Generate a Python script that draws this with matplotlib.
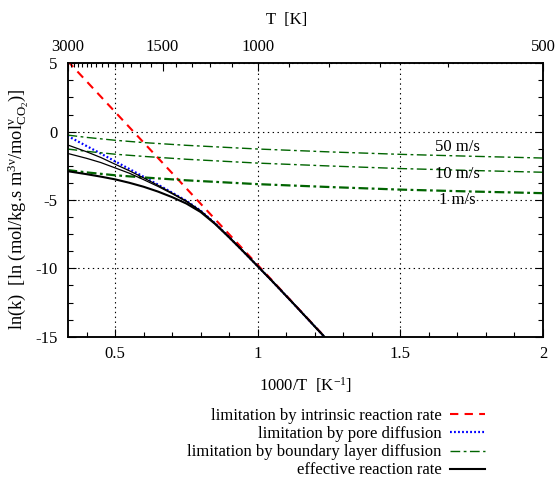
import matplotlib
matplotlib.use('Agg')
import matplotlib.pyplot as plt
from matplotlib.ticker import FixedLocator, MultipleLocator, NullFormatter, FixedFormatter

plt.rcParams['font.family'] = ['Liberation Serif', 'DejaVu Serif']
plt.rcParams['mathtext.fontset'] = 'custom'
plt.rcParams['mathtext.rm'] = 'Liberation Serif'
plt.rcParams['mathtext.it'] = 'Liberation Serif:italic'
plt.rcParams['axes.unicode_minus'] = False
plt.rcParams['lines.scale_dashes'] = False

# ---------------- data ----------------
# intrinsic reaction rate (straight line in Arrhenius plot)
x_intr = [0.3333, 1.25]
y_intr = [5.18, -15.35]

# pore diffusion limitation
x_pore = [0.3333, 0.4, 0.45, 0.5, 0.55, 0.6, 0.65, 0.7, 0.75, 0.8, 0.85,
          0.9, 0.95, 1.0, 1.05, 1.1, 1.15, 1.2, 1.25]
y_pore = [-0.31, -1.05, -1.6, -2.17, -2.73, -3.3, -3.87, -4.46, -5.06, -5.78,
          -6.69, -7.72, -8.77, -9.84, -10.92, -12.02, -13.13, -14.25, -15.37]

# boundary layer diffusion limitation for three gas velocities
x_bl = [0.3333, 0.4, 0.5, 0.6, 0.75, 1.0, 1.25, 1.5, 1.75, 2.0]
bl_50 = [-0.25, -0.42, -0.63, -0.80, -1.0, -1.27, -1.48, -1.66, -1.80, -1.93]
bl_10 = [-1.27, -1.44, -1.65, -1.81, -2.02, -2.30, -2.51, -2.70, -2.84, -2.97]
bl_1 = [-2.81, -2.98, -3.19, -3.35, -3.56, -3.84, -4.05, -4.24, -4.38, -4.50]

# effective reaction rate for the three gas velocities
x_eff = [0.3333, 0.4, 0.45, 0.5, 0.55, 0.6, 0.65, 0.7, 0.75, 0.8, 0.85,
         0.9, 0.95, 1.0, 1.05, 1.1, 1.15, 1.2, 1.25]
eff_50 = [-0.97, -1.47, -1.89, -2.38, -2.86, -3.38, -3.92, -4.49, -5.08, -5.79,
          -6.70, -7.72, -8.77, -9.84, -10.92, -12.02, -13.13, -14.25, -15.37]
eff_10 = [-1.59, -1.95, -2.26, -2.65, -3.04, -3.51, -4.0, -4.54, -5.11, -5.81,
          -6.71, -7.72, -8.77, -9.84, -10.92, -12.02, -13.13, -14.25, -15.37]
eff_1 = [-2.89, -3.11, -3.29, -3.49, -3.74, -4.03, -4.38, -4.79, -5.26, -5.88,
         -6.74, -7.74, -8.78, -9.85, -10.92, -12.02, -13.13, -14.25, -15.37]

velocity_labels = ['50 m/s', '10 m/s', '1 m/s']
velocity_label_x = [1.62, 1.62, 1.637]
velocity_label_y = [-1.09, -3.09, -5.02]

legend_labels = ['limitation by intrinsic reaction rate',
                 'limitation by pore diffusion',
                 'limitation by boundary layer diffusion',
                 'effective reaction rate']

# top axis (temperature)
T_major = [3000, 1500, 1000, 500]
T_major_labels = ['3000', '1500', '1000', '500']
T_minor = [2900, 2800, 2700, 2600, 2500, 2400, 2300, 2200, 2100, 2000, 1900,
           1800, 1700, 1600, 1400, 1300, 1200, 1100, 900, 800, 700, 600]

x_ticks = [0.5, 1.0, 1.5, 2.0]
x_tick_labels = ['0.5', '1', '1.5', '2']
y_ticks = [5, 0, -5, -10, -15]
y_tick_labels = ['5', '0', '-5', '-10', '-15']

# ---------------- figure ----------------
W, H = 555, 479
fig = plt.figure(figsize=(W / 100, H / 100), dpi=100)
L, R, T, B = 67.5, 543.0, 63.3, 336.7
ax = fig.add_axes([L / W, 1 - B / H, (R - L) / W, (B - T) / H])

FS = 12
green = '#006400'

ax.plot(x_intr, y_intr, color='#ff0000', lw=1.5, dashes=(6, 4.5),
        label=legend_labels[0], zorder=3)
ax.plot(x_pore, y_pore, color='#0000ff', lw=1.6, dashes=(1.3, 1.6),
        label=legend_labels[1], zorder=3)
ax.plot(x_bl, bl_50, color=green, lw=1.0, dashes=(7, 2.5, 2, 2.5),
        label=legend_labels[2], zorder=3)
ax.plot(x_bl, bl_10, color=green, lw=1.0, dashes=(7, 2.5, 2, 2.5), zorder=3)
ax.plot(x_bl, bl_1, color=green, lw=1.6, dashes=(7, 2.5, 2, 2.5), zorder=3)
ax.plot(x_eff, eff_50, color='black', lw=0.9, zorder=4)
ax.plot(x_eff, eff_10, color='black', lw=0.9, zorder=4)
ax.plot(x_eff, eff_1, color='black', lw=1.5, label=legend_labels[3], zorder=4)

for lab, lx, ly in zip(velocity_labels, velocity_label_x, velocity_label_y):
    ax.text(lx, ly, lab, ha='left', va='center', fontsize=FS, zorder=5)

ax.set_xlim(1000 / 3000, 2.0)
ax.set_ylim(-15, 5)

ax.xaxis.set_major_locator(FixedLocator(x_ticks))
ax.xaxis.set_major_formatter(FixedFormatter(x_tick_labels))
ax.xaxis.set_minor_locator(MultipleLocator(0.1))
ax.yaxis.set_major_locator(FixedLocator(y_ticks))
ax.yaxis.set_major_formatter(FixedFormatter(y_tick_labels))
ax.yaxis.set_minor_locator(MultipleLocator(1.25))

ax.tick_params(axis='both', which='both', direction='in', labelsize=FS)
ax.tick_params(axis='x', which='both', top=False, bottom=True, pad=7)
ax.tick_params(axis='y', which='both', left=True, right=True, pad=7)
ax.tick_params(which='major', length=6, width=0.8)
ax.tick_params(which='minor', length=3.5, width=0.8)

ax.grid(True, which='major', color='black', lw=0.8, dashes=(1, 2.5), zorder=1)

for s in ax.spines.values():
    s.set_linewidth(1.1)

ax.set_xlabel('1000/T  [K$^{\\mathregular{-1}}$]', fontsize=FS)
ax.xaxis.set_label_coords(0.5, -0.14)
ax.set_ylabel('ln(k)  [ln (mol/kg.s m$^{\\mathregular{3\u03bd}}$/mol$_{\\mathregular{CO_2}}^{\\mathregular{\u03bd}}$)]',
              fontsize=13.2)
ax.yaxis.set_label_coords(-0.076, 0.465)

# top temperature axis
ax2 = ax.twiny()
ax2.set_xlim(ax.get_xlim())
ax2.xaxis.set_major_locator(FixedLocator([1000 / t for t in T_major]))
ax2.xaxis.set_major_formatter(FixedFormatter(T_major_labels))
ax2.xaxis.set_minor_locator(FixedLocator([1000 / t for t in T_minor]))
ax2.xaxis.set_minor_formatter(NullFormatter())
ax2.tick_params(axis='x', which='both', direction='in', labelsize=FS, pad=6)
ax2.tick_params(which='major', length=6, width=0.8)
ax2.tick_params(which='minor', length=3, width=0.8)
ax2.set_xlabel('T  [K]', fontsize=FS)
ax2.xaxis.set_label_coords(0.4616, 1.143)
for s in ax2.spines.values():
    s.set_linewidth(1.1)

leg = ax.legend(loc='upper right', bbox_to_anchor=(485 / W, 1 - 408 / H),
                bbox_transform=fig.transFigure, frameon=False, fontsize=FS,
                markerfirst=False, handlelength=2.1, handletextpad=0.5,
                labelspacing=0.13, borderpad=0, borderaxespad=0)

fig.savefig('out.png', dpi=100)
